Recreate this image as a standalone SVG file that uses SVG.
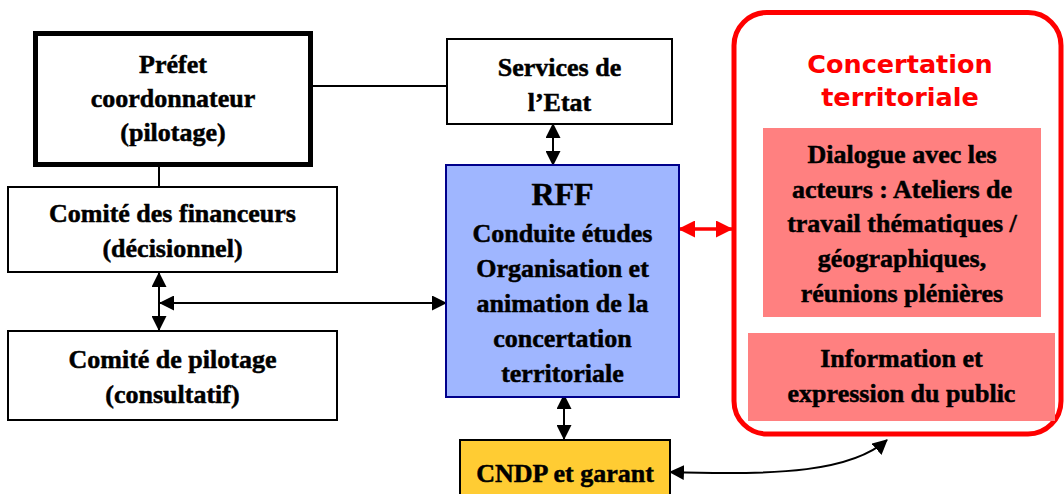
<svg xmlns="http://www.w3.org/2000/svg" width="1064" height="494" viewBox="0 0 1064 494">
<style>
.box{fill:#fff;stroke:#000;stroke-width:2}
.t{font-family:"Liberation Serif","Times New Roman",serif;font-weight:bold;font-size:26px;fill:#000;stroke:#000;stroke-width:0.5;text-anchor:middle}
.ln{fill:none;stroke:#000;stroke-width:2}
.arr{fill:none;stroke:#000;stroke-width:2;marker-start:url(#ah);marker-end:url(#ah)}
.rarr{fill:none;stroke:#f00;stroke-width:3.5;marker-start:url(#rh);marker-end:url(#rh)}
.pink{fill:#ff8080}
.title{font-family:"DejaVu Sans",Verdana,sans-serif;font-weight:bold;font-size:25.5px;fill:#f00;text-anchor:middle}
</style>
<defs>
<marker id="ah" markerUnits="userSpaceOnUse" viewBox="0 0 15 15" refX="14" refY="7.5" markerWidth="15" markerHeight="15" orient="auto-start-reverse">
<path d="M0,0 L15,7.5 L0,15 z" fill="#000"/>
</marker>
<marker id="rh" markerUnits="userSpaceOnUse" viewBox="0 0 17 17" refX="16" refY="8.5" markerWidth="17" markerHeight="17" orient="auto-start-reverse">
<path d="M0,0 L17,8.5 L0,17 z" fill="#f00"/>
</marker>
</defs>
<rect width="1064" height="494" fill="#fff"/>

<g id="connectors">
<line class="ln" x1="312" y1="86" x2="447" y2="86"/>
<line class="ln" x1="159" y1="166" x2="159" y2="188"/>
<line class="arr" x1="159" y1="273" x2="159" y2="330"/>
<line class="arr" x1="160" y1="303" x2="446" y2="303"/>
<line class="arr" x1="553" y1="124" x2="553" y2="165"/>
<line class="arr" x1="564" y1="395" x2="564" y2="439"/>
<line class="rarr" x1="679" y1="229" x2="732" y2="229"/>
<path class="arr" d="M670,472 C780,476 852,471 887,440"/>
</g>

<g id="prefet">
<rect x="35.5" y="33.5" width="275" height="131" fill="#fff" stroke="#000" stroke-width="5"/>
<text class="t" x="173" y="73">Préfet</text>
<text class="t" x="173" y="107">coordonnateur</text>
<text class="t" x="173" y="141">(pilotage)</text>
</g>

<g id="services">
<rect class="box" x="447" y="39" width="225" height="85"/>
<text class="t" x="559.5" y="76">Services de</text>
<text class="t" x="559.5" y="111">l’Etat</text>
</g>

<g id="financeurs">
<rect class="box" x="8" y="187" width="329" height="85"/>
<text class="t" x="172.5" y="222">Comité des financeurs</text>
<text class="t" x="172.5" y="257">(décisionnel)</text>
</g>

<g id="pilotage">
<rect class="box" x="8" y="331" width="329" height="89"/>
<text class="t" x="172.5" y="368">Comité de pilotage</text>
<text class="t" x="172.5" y="403">(consultatif)</text>
</g>

<g id="rff">
<rect x="446" y="165" width="233" height="232" fill="#9fb6ff" stroke="#00008b" stroke-width="2"/>
<text class="t" x="562.5" y="205" style="font-size:32px">RFF</text>
<text class="t" x="562.5" y="242">Conduite études</text>
<text class="t" x="562.5" y="277">Organisation et</text>
<text class="t" x="562.5" y="312">animation de la</text>
<text class="t" x="562.5" y="347">concertation</text>
<text class="t" x="562.5" y="382">territoriale</text>
</g>

<g id="cndp">
<rect x="460" y="440" width="210" height="70" fill="#ffcc33" stroke="#000" stroke-width="2"/>
<text class="t" x="565" y="482">CNDP et garant</text>
</g>

<g id="concertation">
<rect x="734" y="12.5" width="327" height="421.5" rx="33" ry="33" fill="#fff" stroke="#f00" stroke-width="5"/>
<text class="title" x="900" y="73">Concertation</text>
<text class="title" x="900" y="106">territoriale</text>
</g>

<g id="dialogue">
<rect class="pink" x="763" y="128" width="278" height="189"/>
<text class="t" x="902" y="163">Dialogue avec les</text>
<text class="t" x="902" y="198">acteurs : Ateliers de</text>
<text class="t" x="902" y="232">travail thématiques /</text>
<text class="t" x="902" y="267">géographiques,</text>
<text class="t" x="902" y="302">réunions plénières</text>
</g>

<g id="information">
<rect class="pink" x="748" y="333" width="307" height="88"/>
<text class="t" x="901.5" y="367">Information et</text>
<text class="t" x="901.5" y="402">expression du public</text>
</g>
</svg>
